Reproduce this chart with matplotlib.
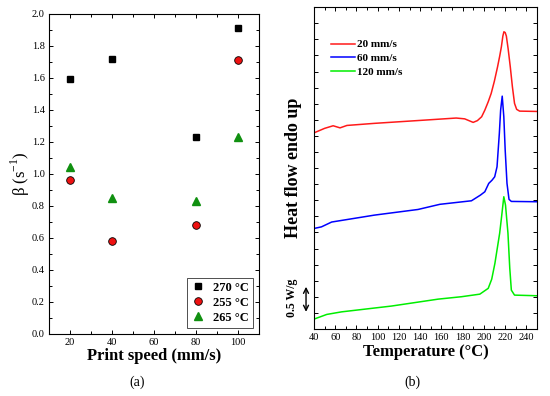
import matplotlib
matplotlib.use('Agg')
import matplotlib.pyplot as plt
from matplotlib.ticker import MultipleLocator, NullFormatter
import matplotlib.transforms as mtransforms

plt.rcParams['font.family'] = 'Liberation Serif'
plt.rcParams['mathtext.fontset'] = 'custom'
plt.rcParams['mathtext.rm'] = 'Liberation Serif'

# (a) beta vs print speed
speed = [20, 40, 80, 100]
beta_270 = [1.59, 1.72, 1.23, 1.91]
beta_255 = [0.96, 0.58, 0.68, 1.71]
beta_265 = [1.04, 0.85, 0.83, 1.23]

# (b) DSC curves (offset heat flow, arbitrary units)
t_20 = [40, 50, 58, 64.5, 71, 97, 144, 174, 182, 190, 194, 198, 201, 204.2, 207, 210, 213,
        215, 216.6, 218, 219, 220.2, 221.3, 223, 225, 227, 229, 231, 233.8, 250]
hf_20 = [12.19, 12.47, 12.63, 12.50, 12.65, 12.78, 12.98, 13.11, 13.06, 12.84, 12.95, 13.19,
         13.60, 14.12, 14.64, 15.40, 16.29, 16.95, 17.53, 18.20, 18.47, 18.42, 18.20, 17.40,
         16.29, 15.05, 14.02, 13.65, 13.54, 13.52]

t_60 = [40, 47, 56.6, 97, 138, 158.6, 188.4, 196.8, 201, 204.7, 207.8, 210.3, 212.5,
        214.7, 215.9, 217.4, 218.9, 220.2, 221.9, 223.8, 226, 250]
hf_60 = [6.25, 6.35, 6.65, 7.08, 7.43, 7.75, 7.97, 8.32, 8.53, 9.05, 9.25, 9.46, 10.08,
         12.17, 13.60, 14.47, 13.19, 11.12, 9.05, 8.06, 7.93, 7.91]

t_120 = [40, 52, 66, 113, 157, 179, 196.3, 204.2, 207.5, 210.5, 215, 216.8, 218.9, 220.5,
         222.8, 224.5, 226, 229, 250]
hf_120 = [0.62, 0.91, 1.07, 1.43, 1.86, 2.01, 2.17, 2.53, 3.10, 4.08, 5.96, 6.98, 8.22, 7.70,
          5.96, 3.80, 2.42, 2.11, 2.07]

fig = plt.figure(figsize=(5.5, 3.96), dpi=100)
ax1 = fig.add_axes([0.089, 0.157, 0.382, 0.808])
ax2 = fig.add_axes([0.571, 0.169, 0.405, 0.813])

# panel a
ax1.plot(speed, beta_270, 's', color='black', ms=5, label='270 °C')
ax1.plot(speed, beta_255, 'o', color='#ee1111', mec='black', mew=0.6, ms=5.5, label='255 °C')
ax1.plot(speed, beta_265, '^', color='#109010', ms=6, label='265 °C')
ax1.set_xlim(10, 110)
ax1.set_ylim(0, 2.0)
ax1.xaxis.set_major_locator(MultipleLocator(20))
ax1.xaxis.set_minor_locator(MultipleLocator(10))
ax1.yaxis.set_major_locator(MultipleLocator(0.2))
ax1.yaxis.set_minor_locator(MultipleLocator(0.1))
ax1.yaxis.set_major_formatter(plt.FuncFormatter(lambda v, p: '%.1f' % v))
ax1.set_xlabel('Print speed (mm/s)', fontsize=12, fontweight='bold', labelpad=1)
ax1.set_ylabel('β (s$^{\\mathrm{-1}}$)', fontsize=12, labelpad=0)
leg1 = ax1.legend(loc='lower right', prop={'weight': 'bold', 'size': 9},
                  fancybox=False, edgecolor='black', handletextpad=0.6,
                  borderpad=0.3, labelspacing=0.25, handlelength=1.2,
                  borderaxespad=0.5)
leg1.get_frame().set_linewidth(0.6)

# panel b
ax2.plot(t_20, hf_20, color='#ff1a1a', lw=1.1, label='20 mm/s')
ax2.plot(t_60, hf_60, color='#0000ff', lw=1.1, label='60 mm/s')
ax2.plot(t_120, hf_120, color='#00ee00', lw=1.1, label='120 mm/s')
ax2.set_xlim(40, 250)
ax2.set_ylim(0, 20)
ax2.xaxis.set_major_locator(MultipleLocator(20))
ax2.xaxis.set_minor_locator(MultipleLocator(10))
ax2.yaxis.set_major_locator(MultipleLocator(1))
ax2.yaxis.set_major_formatter(NullFormatter())
ax2.set_xlabel('Temperature (°C)', fontsize=12, fontweight='bold', labelpad=1)
ax2.set_ylabel('Heat flow endo up', fontsize=13, fontweight='bold', labelpad=6)
ax2.legend(loc='upper left', frameon=False, prop={'weight': 'bold', 'size': 8},
           handlelength=2.2, handletextpad=0.2, labelspacing=0.35,
           bbox_to_anchor=(0.03, 0.93))

# scale bar
trans = mtransforms.blended_transform_factory(ax2.transAxes, ax2.transData)
ax2.annotate('', xy=(-0.036, 0.9), xytext=(-0.036, 2.8), xycoords=trans, textcoords=trans,
             arrowprops=dict(arrowstyle='<->', color='black', lw=1.0,
                             mutation_scale=9), annotation_clip=False)
ax2.text(-0.1, 1.95, '0.5 W/g', transform=trans, rotation=90, ha='center', va='center',
         fontsize=8.5, fontweight='bold')

for ax in (ax1, ax2):
    ax.tick_params(which='both', direction='in', top=True, right=True, labelsize=7.5,
                   width=0.7, pad=3)
    ax.tick_params(which='major', length=3)
    ax.tick_params(which='minor', length=2)
    for s in ax.spines.values():
        s.set_linewidth(0.8)

fig.text(0.25, 0.035, '(a)', ha='center', va='center', fontsize=10)
fig.text(0.75, 0.035, '(b)', ha='center', va='center', fontsize=10)

fig.savefig('out.png', dpi=100)
